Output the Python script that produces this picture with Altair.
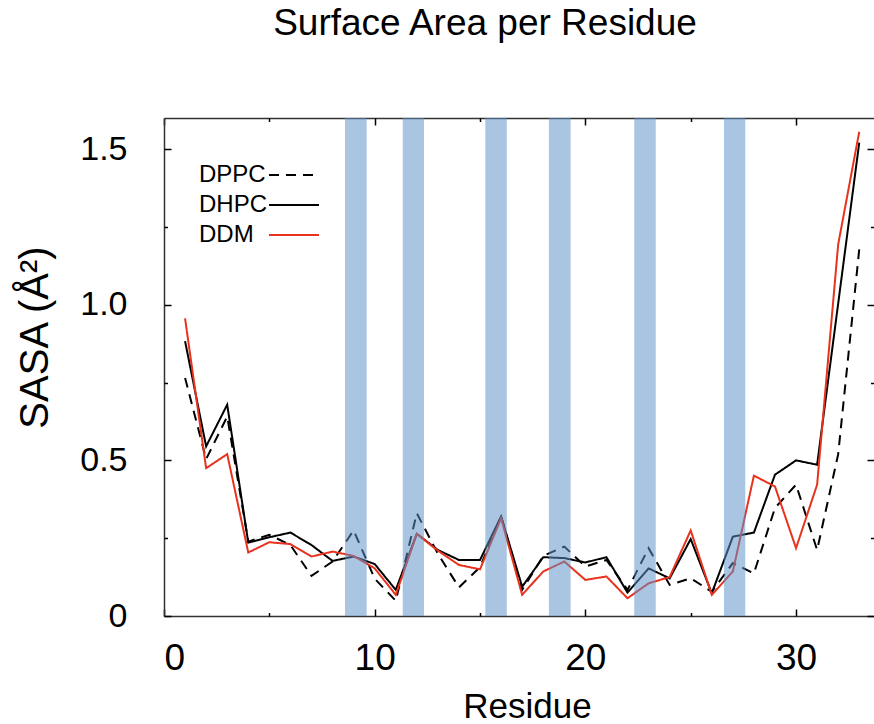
import altair as alt
import pandas as pd

# ---------------- data ----------------
residues = list(range(1, 34))
dppc = [0.765, 0.504, 0.641, 0.239, 0.261, 0.228, 0.129, 0.175, 0.275, 0.120,
        0.049, 0.330, 0.200, 0.092, 0.157, 0.320, 0.084, 0.193, 0.223, 0.159,
        0.180, 0.084, 0.218, 0.100, 0.121, 0.078, 0.170, 0.137, 0.347, 0.422,
        0.212, 0.520, 1.178]
dhpc = [0.883, 0.545, 0.679, 0.236, 0.253, 0.268, 0.228, 0.177, 0.191, 0.167,
        0.084, 0.264, 0.212, 0.180, 0.180, 0.320, 0.094, 0.189, 0.186, 0.172,
        0.189, 0.075, 0.153, 0.121, 0.247, 0.073, 0.255, 0.268, 0.454, 0.500,
        0.486, 1.004, 1.521]
ddm = [0.956, 0.475, 0.520, 0.204, 0.237, 0.231, 0.191, 0.207, 0.193, 0.153,
       0.068, 0.264, 0.210, 0.164, 0.150, 0.314, 0.068, 0.143, 0.175, 0.116,
       0.127, 0.057, 0.105, 0.125, 0.275, 0.068, 0.143, 0.451, 0.416, 0.218,
       0.422, 1.194, 1.556]
series_names = ["DPPC", "DHPC", "DDM"]
series_colors = ["#000000", "#000000", "#e8321e"]
series_dash = [[10, 7], [1, 0], [1, 0]]

band_start = [8.59, 11.33, 15.25, 18.27, 22.32, 26.58]
band_end = [9.62, 12.34, 16.27, 19.30, 23.34, 27.59]

x_major = [0, 10, 20, 30]
x_minor = [5, 15, 25]
y_major = [0, 0.5, 1.0, 1.5]
y_minor = [0.25, 0.75, 1.25]

# ---------------- tables ----------------
rows = []
for name, vals in zip(series_names, [dppc, dhpc, ddm]):
    for r, v in zip(residues, vals):
        rows.append({"residue": r, "sasa": v, "series": name})
df = pd.DataFrame(rows)
bands = pd.DataFrame({"start": band_start, "end": band_end})

FONT = "Liberation Sans"
XDOM = [0, 33.7]
YDOM = [0, 1.6]
W, H = 710, 498
AX = "#333333"


def xs():
    return alt.Scale(domain=XDOM, nice=False, zero=False)


def ys():
    return alt.Scale(domain=YDOM, nice=False, zero=False)


def tick_axis(orient, values, size):
    return alt.Axis(orient=orient, values=values, offset=-size, tickSize=size,
                    ticks=True, labels=False, domain=False, grid=False,
                    title=None, tickColor="#000000", tickWidth=1.5)


# wide, flat line symbol (path in unit space, scaled by sqrt(size)/2)
legend = alt.Legend(orient="none", legendX=118, legendY=45, title=None,
                    symbolType="M-5,0H5", symbolSize=100, symbolStrokeWidth=2,
                    labelFont=FONT, labelFontSize=24, labelColor="black",
                    labelOffset={"expr": "-107"}, labelAlign="left", labelLimit=0,
                    rowPadding=6, padding=0)

lines = alt.Chart(df).mark_line(strokeWidth=2).encode(
    x=alt.X("residue:Q", scale=xs(),
            axis=alt.Axis(orient="bottom", values=x_major, format="d",
                          ticks=False, tickSize=0, grid=False,
                          labelFont=FONT, labelFontSize=37, labelColor="black",
                          labelPadding=24, domainColor=AX, domainWidth=1.5,
                          title="Residue", titleFont=FONT, titleFontSize=35,
                          titleFontWeight="normal", titleColor="black",
                          titleBaseline="alphabetic", titleY=101, titleX=363)),
    y=alt.Y("sasa:Q", scale=ys(),
            axis=alt.Axis(orient="left", values=y_major, ticks=False, tickSize=0,
                          grid=False, labelFont=FONT, labelFontSize=34,
                          labelColor="black", labelPadding=37,
                          labelExpr="datum.value == 0 ? '0' : format(datum.value, '.1f')",
                          domainColor=AX, domainWidth=1.5,
                          title="SASA (Å²)", titleFont=FONT, titleFontSize=40,
                          titleFontWeight="normal", titleColor="black",
                          titleX=-129, titleY=219, titleAngle=-90,
                          titleBaseline="middle", titleAlign="center")),
    color=alt.Color("series:N", scale=alt.Scale(domain=series_names, range=series_colors),
                    legend=legend),
    strokeDash=alt.StrokeDash("series:N", scale=alt.Scale(domain=series_names, range=series_dash),
                              legend=legend),
    order=alt.Order("order:Q"),
).transform_calculate(order="indexof(['DPPC','DHPC','DDM'], datum.series)")

band_layer = alt.Chart(bands).mark_rect(color="#5e91c8", opacity=0.53).encode(
    x=alt.X("start:Q", scale=xs(), axis=tick_axis("bottom", x_major, 7)),
    x2="end:Q",
)

ghost = pd.DataFrame({"residue": residues, "sasa": dhpc})


def ghost_layer(xaxis, yaxis):
    return alt.Chart(ghost).mark_point(opacity=0).encode(
        x=alt.X("residue:Q", scale=xs(), axis=xaxis),
        y=alt.Y("sasa:Q", scale=ys(), axis=yaxis),
    )


g1 = ghost_layer(tick_axis("bottom", x_minor, 3.5), tick_axis("left", y_major, 7))
g2 = ghost_layer(alt.Axis(orient="top", values=x_major, ticks=False, labels=False,
                          domain=True, domainColor=AX, domainWidth=1.5, grid=False,
                          title=None),
                 tick_axis("left", y_minor, 3.5))
g3 = ghost_layer(tick_axis("top", x_major, 7), tick_axis("right", y_major, 7))
g4 = ghost_layer(tick_axis("top", x_minor, 3.5), tick_axis("right", y_minor, 3.5))

chart = alt.layer(lines, band_layer, g1, g2, g3, g4).resolve_scale(
    x="independent", y="independent"
).resolve_axis(
    x="independent", y="independent"
).properties(
    width=W, height=H,
    title=alt.TitleParams("Surface Area per Residue", font=FONT, fontSize=37,
                          fontWeight="normal", color="black", anchor="middle",
                          dx=-34, offset=45, baseline="alphabetic"),
    padding={"left": 164, "top": 118, "right": 0, "bottom": 108},
    autosize=alt.AutoSizeParams(type="none"),
).configure_view(stroke=None).configure(background="white")

chart.save("out.html", embed_options={"renderer": "svg", "actions": False})
